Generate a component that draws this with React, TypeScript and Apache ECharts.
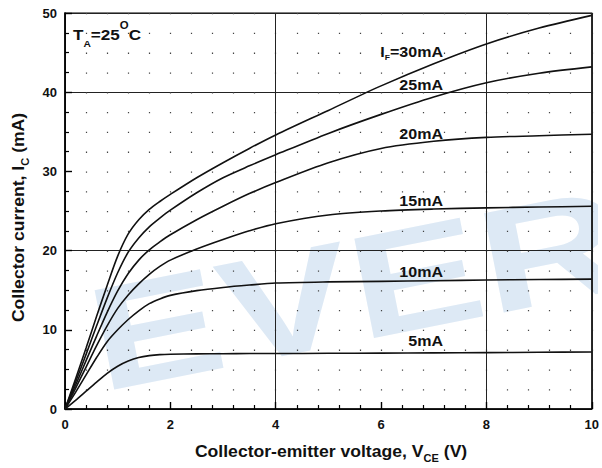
import React, { useEffect, useRef } from "react";
import * as echarts from "echarts";

// Collector-emitter voltage V_CE (V)
const voltage = [0, 0.2, 0.4, 0.6, 0.8, 1.0, 1.2, 1.4, 1.6, 1.8, 2.0, 2.5, 3, 3.5, 4, 5, 6, 7, 8, 9, 10];
// Collector current I_C (mA) for each forward current I_F
const ic5 = [0, 1.1, 2.25, 3.4, 4.5, 5.4, 6.05, 6.5, 6.74, 6.87, 6.92, 6.96, 6.98, 7.0, 7.0, 7.03, 7.06, 7.09, 7.12, 7.16, 7.2];
const ic10 = [0, 2.1, 4.3, 6.5, 8.5, 10.0, 11.3, 12.4, 13.3, 13.9, 14.35, 14.95, 15.35, 15.65, 15.9, 16.05, 16.12, 16.2, 16.28, 16.35, 16.4];
const ic15 = [0, 2.6, 5.3, 8.0, 10.5, 12.7, 14.4, 15.8, 17.0, 18.0, 18.8, 20.2, 21.4, 22.5, 23.4, 24.5, 25.0, 25.25, 25.4, 25.5, 25.6];
const ic20 = [0, 3.0, 6.1, 9.2, 12.2, 14.9, 17.1, 18.8, 20.1, 21.1, 22.0, 23.9, 25.6, 27.2, 28.6, 31.1, 32.9, 33.8, 34.3, 34.5, 34.7];
const ic25 = [0, 3.4, 6.9, 10.5, 14.0, 17.2, 19.8, 21.6, 23.0, 24.1, 25.1, 27.3, 29.2, 30.7, 32.1, 34.8, 37.2, 39.4, 41.2, 42.4, 43.2];
const ic30 = [0, 3.8, 7.7, 11.7, 15.6, 19.3, 22.1, 23.9, 25.2, 26.2, 27.1, 29.2, 31.1, 32.9, 34.6, 37.7, 40.8, 43.6, 46.1, 48.1, 49.7];

const seriesList = [
  { name: "30mA", values: ic30 },
  { name: "25mA", values: ic25 },
  { name: "20mA", values: ic20 },
  { name: "15mA", values: ic15 },
  { name: "10mA", values: ic10 },
  { name: "5mA", values: ic5 },
];

const curveLabels = ["25mA", "20mA", "15mA", "10mA", "5mA"];
const xRange = [0, 10];
const yRange = [0, 50];

const FONT = "'Liberation Sans', Arial, sans-serif";

export default function App() {
  const ref = useRef<HTMLDivElement>(null);

  useEffect(() => {
    document.body.style.margin = "0";
    if (!ref.current) return;
    const chart = echarts.init(ref.current, undefined, { renderer: "svg" });

    const dotStyle = { type: [1.3, 18.5] as any, color: "#444", width: 1.2 };
    const labelStyle = { fontFamily: FONT, fontWeight: "bold" as const, fontSize: 15, fill: "#111" };
    const labelY = [84.5, 133.5, 200.5, 271.5, 341];
    const theta = 0.195;

    chart.setOption({
      animation: false,
      backgroundColor: "#fff",
      textStyle: { fontFamily: FONT },
      grid: {
        left: 65,
        right: 5,
        top: 13,
        bottom: 59,
        show: true,
        borderColor: "#000",
        borderWidth: 1.2,
        backgroundColor: "transparent",
      },
      xAxis: [
        {
          type: "value",
          min: xRange[0],
          max: xRange[1],
          interval: 2,
          axisLine: { show: true, lineStyle: { color: "#000", width: 1.6 } },
          axisTick: { show: true, inside: true, length: 7, lineStyle: { color: "#000", width: 1.4 } },
          minorTick: { show: true, splitNumber: 5, length: 4, lineStyle: { color: "#000", width: 1.2 } },
          axisLabel: { fontFamily: FONT, fontWeight: "bold", fontSize: 13, color: "#111", margin: 9 },
          splitLine: { show: true, lineStyle: dotStyle },
          minorSplitLine: { show: true, lineStyle: dotStyle },
        },
        {
          type: "value",
          min: xRange[0],
          max: xRange[1],
          interval: 4,
          position: "bottom",
          axisLine: { show: false },
          axisTick: { show: false },
          axisLabel: { show: false },
          splitLine: { show: true, lineStyle: { color: "#222", width: 1, type: "solid" } },
        },
      ],
      yAxis: [
        {
          type: "value",
          min: yRange[0],
          max: yRange[1],
          interval: 10,
          axisLine: { show: true, lineStyle: { color: "#000", width: 1.6 } },
          axisTick: { show: true, inside: true, length: 7, lineStyle: { color: "#000", width: 1.4 } },
          minorTick: { show: true, splitNumber: 4, length: 4, lineStyle: { color: "#000", width: 1.2 } },
          axisLabel: { fontFamily: FONT, fontWeight: "bold", fontSize: 13, color: "#111", margin: 8 },
          splitLine: { show: false },
        },
        {
          type: "value",
          min: yRange[0],
          max: yRange[1],
          interval: 20,
          position: "left",
          axisLine: { show: false },
          axisTick: { show: false },
          axisLabel: { show: false },
          splitLine: { show: true, lineStyle: { color: "#222", width: 1, type: "solid" } },
        },
      ],
      graphic: [
        {
          type: "text",
          z: -10,
          x: 101.5 - Math.sin(theta) * 52,
          y: 393 - Math.cos(theta) * 52,
          rotation: theta,
          scaleX: 1.35,
          scaleY: 1,
          style: {
            text: "EVER",
            fontFamily: FONT,
            fontWeight: "bold",
            fontSize: 147,
            fill: "#dde9f5",
            align: "left",
            verticalAlign: "middle",
          },
        },
        {
          type: "rect",
          z: -9,
          shape: { x: 598, y: 0, width: 10, height: 468 },
          style: { fill: "#fff" },
        },
        {
          type: "text",
          x: 331,
          y: 452,
          scaleX: 1.1,
          style: {
            text: "{n|Collector-emitter voltage, V}{b|CE}{n| (V)}",
            align: "center",
            verticalAlign: "middle",
            rich: {
              n: { fontFamily: FONT, fontWeight: "bold", fontSize: 16, lineHeight: 22, fill: "#111" },
              b: { fontFamily: FONT, fontWeight: "bold", fontSize: 10, lineHeight: 9, verticalAlign: "bottom", fill: "#111" },
            },
          },
        },
        {
          type: "text",
          x: 19,
          y: 217.5,
          rotation: Math.PI / 2,
          scaleX: 1.1,
          style: {
            text: "{n|Collector current, I}{b|C}{n| (mA)}",
            align: "center",
            verticalAlign: "middle",
            rich: {
              n: { fontFamily: FONT, fontWeight: "bold", fontSize: 16, lineHeight: 22, fill: "#111" },
              b: { fontFamily: FONT, fontWeight: "bold", fontSize: 10, lineHeight: 9, verticalAlign: "bottom", fill: "#111" },
            },
          },
        },
        {
          type: "text",
          x: 73,
          y: 34,
          scaleX: 1.14,
          style: {
            text: "{n|T}{b|A}{n|=25}{p|O}{n|C}",
            align: "left",
            verticalAlign: "middle",
            rich: {
              n: { fontFamily: FONT, fontWeight: "bold", fontSize: 15, lineHeight: 28, fill: "#111" },
              b: { fontFamily: FONT, fontWeight: "bold", fontSize: 9, lineHeight: 8, verticalAlign: "bottom", fill: "#111" },
              p: { fontFamily: FONT, fontWeight: "bold", fontSize: 10, lineHeight: 18, verticalAlign: "top", fill: "#111" },
            },
          },
        },
        {
          type: "text",
          x: 443,
          y: 51.5,
          scaleX: 1.07,
          style: {
            text: "{n|I}{b|F}{n|=30mA}",
            align: "right",
            verticalAlign: "middle",
            rich: {
              n: { fontFamily: FONT, fontWeight: "bold", fontSize: 15, lineHeight: 20, fill: "#111" },
              b: { fontFamily: FONT, fontWeight: "bold", fontSize: 8, lineHeight: 8, verticalAlign: "bottom", fill: "#111" },
            },
          },
        },
        ...curveLabels.map((t, i) => ({
          type: "text",
          x: 443,
          y: labelY[i],
          scaleX: 1.07,
          style: { ...labelStyle, text: t, align: "right", verticalAlign: "middle" },
        })),
      ],
      series: seriesList.map((s) => ({
        name: s.name,
        type: "line",
        xAxisIndex: 0,
        yAxisIndex: 0,
        data: voltage.map((v, i) => [v, s.values[i]]),
        showSymbol: false,
        smooth: 0.3,
        lineStyle: { color: "#111", width: 1.6 },
        z: 5,
      })),
    });

    return () => chart.dispose();
  }, []);

  return <div ref={ref} style={{ width: 602, height: 468 }} />;
}
